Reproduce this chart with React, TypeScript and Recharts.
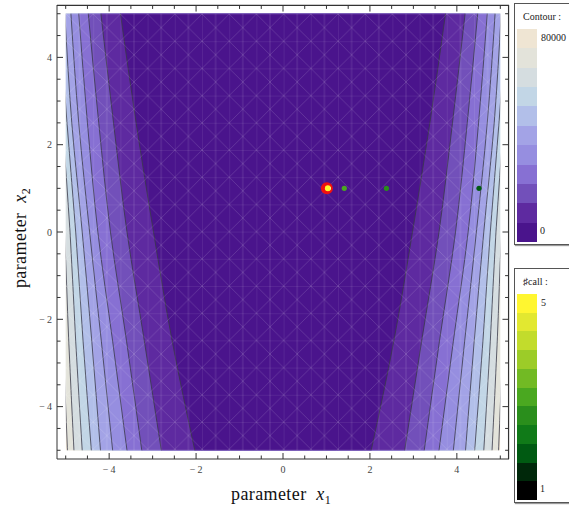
import React from 'react';
import { ComposedChart, Area, Scatter, XAxis, YAxis, ReferenceArea, ReferenceLine } from 'recharts';

const x2Rows = [-5, -2.5, 0, 2.5, 5];

// |x1| of each contour line at the rows above (plot is symmetric in x1)
const contour1 = [2.03, 2.55, 2.98, 3.38, 3.74];
const contour2 = [2.8, 3.19, 3.59, 3.9, 4.19];
const contour3 = [3.25, 3.6, 3.97, 4.24, 4.48];
const contour4 = [3.59, 3.92, 4.26, 4.5, 4.7];
const contour5 = [3.92, 4.18, 4.45, 4.7, 4.88];
const contour6 = [4.2, 4.4, 4.62, 4.86, 5.02];
const contour7 = [4.41, 4.6, 4.77, 4.97, 5.15];
const contour8 = [4.62, 4.77, 4.9, 5.08, 5.3];
const contour9 = [4.81, 4.93, 5.03, 5.2, 5.4];
const contour10 = [4.96, 5.06, 5.15, 5.3, 5.5];

const bandColors = [
  '#4a148c', '#5e2aa0', '#7250ba', '#8770d3', '#968ee0', '#a3a3e6',
  '#b2bfe9', '#c2d6e6', '#d5dde0', '#e3e3da', '#efe5d3',
];
const callColors = [
  '#000000', '#00280a', '#005a12', '#107a18', '#2a8e1c', '#4aa820',
  '#72ba24', '#9ccc28', '#c2dc2c', '#e2e830', '#fff630',
];

// evaluated points
const pointX1 = [4.51, 2.38, 1.41, 1.03];
const pointX2 = [1.0, 1.0, 1.0, 1.0];
const pointCalls = [1.8, 2.6, 3.0, 5];
const optimumX1 = [1.01];
const optimumX2 = [1.0];

const axisTicks = [-5, -4.5, -4, -3.5, -3, -2.5, -2, -1.5, -1, -0.5, 0, 0.5, 1, 1.5, 2, 2.5, 3, 3.5, 4, 4.5, 5];
const labelTicks = [-4, -2, 0, 2, 4];

const contours = [contour1, contour2, contour3, contour4, contour5, contour6, contour7, contour8, contour9, contour10];
const contourTable = x2Rows.map((x2, i) => {
  const row: Record<string, number> = { x2 };
  contours.forEach((c, k) => {
    row[`c${k + 1}`] = c[i];
  });
  return row;
});

const points = pointX1.map((x1, i) => ({ x1, x2: pointX2[i], call: pointCalls[i] }));
const optimum = optimumX1.map((x1, i) => ({ x1, x2: optimumX2[i] }));

const serif = '"Liberation Serif", "DejaVu Serif", serif';
const frame = '#333';
const edge = 5.2;
const frameEdge = 5.19;

const fmt = (v: number) => (v < 0 ? `\u2212\u2009${Math.abs(v)}` : `${v}`);
const isMajor = (v: number) => labelTicks.includes(v);
// inner tick length in axis units (major / minor)
const tickLen = (v: number) => (isMajor(v) ? 0.14 : 0.08);

function BottomTick(props: any) {
  const { x, y, payload } = props;
  const v = payload.value;
  return (
    <g>
      <line x1={x} x2={x} y1={y} y2={y - (isMajor(v) ? 6 : 3.5)} stroke={frame} strokeWidth={1} />
      {isMajor(v) && (
        <text x={x} y={y + 14} textAnchor="middle" fontSize={10} fill="#444" fontFamily={serif}>
          {fmt(v)}
        </text>
      )}
    </g>
  );
}

function LeftTick(props: any) {
  const { x, y, payload } = props;
  const v = payload.value;
  return (
    <g>
      <line x1={x} x2={x + (isMajor(v) ? 6 : 3.5)} y1={y} y2={y} stroke={frame} strokeWidth={1} />
      {isMajor(v) && (
        <text x={x - 5} y={y + 3.5} textAnchor="end" fontSize={10} fill="#444" fontFamily={serif}>
          {fmt(v)}
        </text>
      )}
    </g>
  );
}

function CallDot(props: any) {
  const { cx, cy, payload } = props;
  const idx = Math.round(((payload.call - 1) / 4) * 10);
  return <circle cx={cx} cy={cy} r={2.6} fill={callColors[idx]} />;
}

function OptimumDot(props: any) {
  const { cx, cy } = props;
  return (
    <g>
      <circle cx={cx} cy={cy} r={6} fill="#f01010" />
      <circle cx={cx + 1} cy={cy} r={3} fill="#f4f028" />
      <circle cx={cx + 2.5} cy={cy} r={1.6} fill="#fbfbc8" />
    </g>
  );
}

function ColorKey({ top, height, title, colors, topLabel, bottomLabel }: any) {
  const swatchTop = 25;
  const swatchH = (height - swatchTop - 2) / colors.length;
  return (
    <div
      style={{
        position: 'absolute',
        left: 514,
        top,
        width: 62,
        height,
        border: '1px solid #555',
        boxShadow: '1px 1px 1px #999',
        background: '#fff',
        fontFamily: serif,
      }}
    >
      <div style={{ position: 'absolute', left: 8, top: 7, fontSize: 10, color: '#222', whiteSpace: 'nowrap' }}>
        {title}
      </div>
      {colors
        .slice()
        .reverse()
        .map((c: string, i: number) => (
          <div
            key={i}
            style={{ position: 'absolute', left: 2, top: swatchTop + i * swatchH, width: 20, height: swatchH + 0.5, background: c }}
          />
        ))}
      <div style={{ position: 'absolute', left: 26, top: swatchTop + 3, fontSize: 10, color: '#222' }}>{topLabel}</div>
      <div style={{ position: 'absolute', left: 25, top: height - 19, fontSize: 10, color: '#222' }}>{bottomLabel}</div>
    </div>
  );
}

const AxisTitle = ({ sub }: { sub: string }) => (
  <span style={{ whiteSpace: 'nowrap', letterSpacing: 0.4, lineHeight: 1 }}>
    parameter&nbsp;&nbsp;<i>x</i>
    <span style={{ fontSize: 12, position: 'relative', top: 4 }}>{sub}</span>
  </span>
);

export default function App() {
  return (
    <div style={{ position: 'absolute', left: 0, top: 0, width: 569, height: 506, overflow: 'hidden', background: '#fff' }}>
      <ComposedChart
        width={512}
        height={506}
        layout="vertical"
        data={contourTable}
        margin={{ top: 5, right: 3, bottom: 0, left: 0 }}
      >
        <defs>
          <pattern id="mesh" patternUnits="userSpaceOnUse" x={66} y={14} width={27.2} height={27.2}>
            <path
              d="M0 0 L27.2 27.2 M27.2 0 L0 27.2 M0 0 L27.2 0 M0 0 L0 27.2 M13.6 0 L13.6 27.2"
              stroke="rgba(255,255,255,0.17)"
              strokeWidth={0.8}
              fill="none"
            />
          </pattern>
        </defs>
        <XAxis
          type="number"
          domain={[-edge, edge]}
          allowDataOverflow
          ticks={axisTicks}
          interval={0}
          height={47}
          tickSize={0}
          tickMargin={0}
          tick={<BottomTick />}
          axisLine={{ stroke: frame }}
        />
        <YAxis
          type="number"
          dataKey="x2"
          reversed
          domain={[-edge, edge]}
          allowDataOverflow
          ticks={axisTicks}
          interval={0}
          width={57}
          tickSize={0}
          tickMargin={0}
          tick={<LeftTick />}
          axisLine={{ stroke: frame }}
        />
        <ReferenceArea x1={-5} x2={5} y1={-5} y2={5} fill={bandColors[10]} fillOpacity={1} stroke="none" zIndex={50} />
        {contours
          .map((_, k) => k + 1)
          .reverse()
          .map((k) => (
            <Area
              key={k}
              type="monotone"
              dataKey={(d: any) => [-d[`c${k}`], d[`c${k}`]]}
              fill={bandColors[k - 1]}
              fillOpacity={1}
              stroke="#3a3a48"
              strokeOpacity={0.8}
              strokeWidth={1}
              dot={false}
              activeDot={false}
              isAnimationActive={false}
            />
          ))}
        <ReferenceArea x1={-5} x2={5} y1={-5} y2={5} fill="url(#mesh)" fillOpacity={1} stroke="none" zIndex={150} />
        <ReferenceArea x1={5} x2={edge} y1={-edge} y2={edge} fill="#fff" fillOpacity={1} stroke="none" zIndex={160} />
        <ReferenceArea x1={-edge} x2={-5} y1={-edge} y2={edge} fill="#fff" fillOpacity={1} stroke="none" zIndex={160} />
        {/* top and right frame edges, just inside the plot area */}
        <ReferenceLine y={frameEdge} stroke={frame} strokeWidth={1.2} ifOverflow="visible" zIndex={170} />
        <ReferenceLine x={frameEdge} stroke={frame} strokeWidth={1.2} ifOverflow="visible" zIndex={170} />
        {axisTicks.map((t) => (
          <ReferenceLine
            key={`top${t}`}
            segment={[{ x: t, y: frameEdge }, { x: t, y: frameEdge - tickLen(t) }]}
            stroke={frame}
            strokeWidth={1}
            ifOverflow="visible"
            zIndex={170}
          />
        ))}
        {axisTicks.map((t) => (
          <ReferenceLine
            key={`right${t}`}
            segment={[{ x: frameEdge, y: t }, { x: frameEdge - tickLen(t), y: t }]}
            stroke={frame}
            strokeWidth={1}
            ifOverflow="visible"
            zIndex={170}
          />
        ))}
        <Scatter data={optimum} dataKey="x1" shape={<OptimumDot />} isAnimationActive={false} />
        <Scatter data={points} dataKey="x1" shape={<CallDot />} isAnimationActive={false} />
      </ComposedChart>

      <div
        style={{
          position: 'absolute',
          left: 231,
          top: 484,
          fontFamily: serif,
          fontSize: 18,
          color: '#111',
        }}
      >
        <AxisTitle sub="1" />
      </div>
      <div
        style={{
          position: 'absolute',
          left: 20,
          top: 238,
          transform: 'translate(-50%, -50%) rotate(-90deg)',
          fontFamily: serif,
          fontSize: 18,
          color: '#111',
        }}
      >
        <AxisTitle sub="2" />
      </div>

      <ColorKey top={3} height={240} title="Contour :" colors={bandColors} topLabel="80000" bottomLabel="0" />
      <ColorKey top={268} height={233} title={'\u266fcall :'} colors={callColors} topLabel="5" bottomLabel="1" />
    </div>
  );
}
